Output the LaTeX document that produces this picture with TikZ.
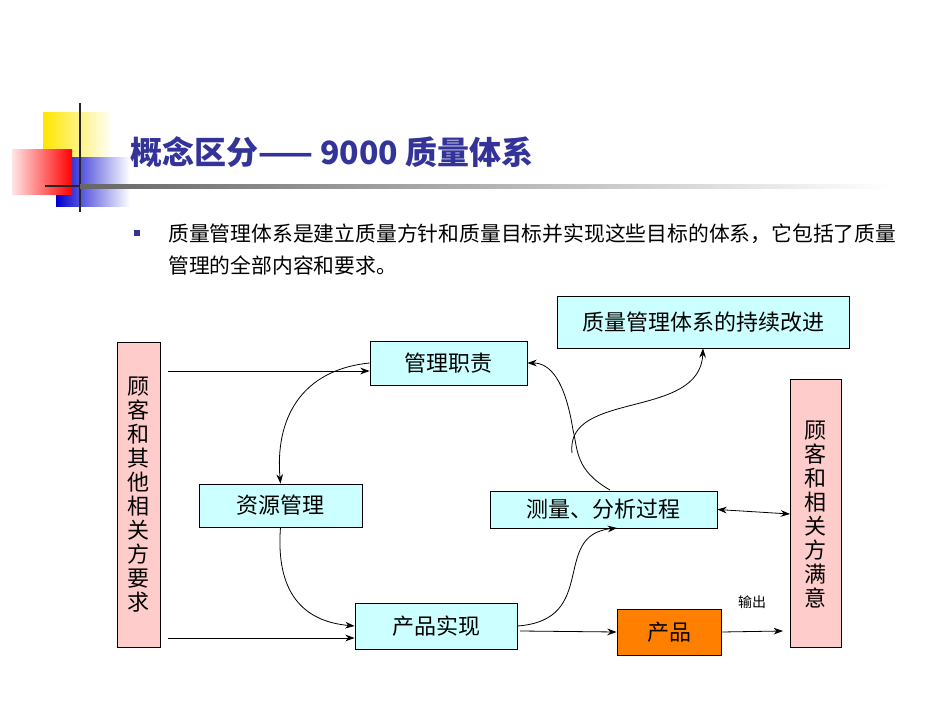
\documentclass[tikz,border=0pt]{standalone}
\usepackage{fontspec}
\newfontfamily\cjk{Noto Sans CJK SC}
\usetikzlibrary{arrows.meta,shadings}
\definecolor{boxc}{HTML}{CCFFFF}
\definecolor{pinkc}{HTML}{FFCCCC}
\definecolor{titc}{HTML}{333399}
\begin{document}
\begin{tikzpicture}[x=0.75pt,y=-0.75pt,
  bx/.style={draw,line width=0.6pt,fill=boxc,inner sep=0pt,font=\cjk\fontsize{16.5}{16.5}\selectfont},
  vtx/.style={font=\cjk\fontsize{16.5}{18}\selectfont,align=center},
  ar/.style={-{Stealth[length=7pt,width=5pt]},line width=0.6pt},
  ]
\useasboundingbox (0,0) rectangle (950,713);
% logo
\shade[left color=yellow!80!orange,right color=white] (43,113) rectangle (113,160);
\shade[left color=blue!80!black,right color=white] (56,158) rectangle (130,207);
\shade[left color=red!10,right color=red] (12,150) rectangle (72,195);
\draw[line width=2pt,black!85] (80,103) -- (80,212);
\draw[line width=2pt,black!85] (45,186) -- (150,186);
\node[anchor=west,text=titc,font=\cjk\bfseries\fontsize{24}{24}\selectfont,inner sep=0pt] (title) at (130,152) {概念区分—— 9000 质量体系};
\shade[left color=black!60,right color=white] (80,185) rectangle (890,189);
% bullet
\node[fill=titc,minimum size=5pt,inner sep=0pt] (bul) at (137,233) {};
\node[anchor=west,font=\cjk\fontsize{15.6}{24.5}\selectfont,align=left,inner sep=0pt] (txt) at (168,249.5) {质量管理体系是建立质量方针和质量目标并实现这些目标的体系，它包括了质量\\管理的全部内容和要求。};
% boxes
\draw[line width=0.6pt,fill=pinkc] (117,342) rectangle (160,647);
\node[vtx] (lt) at (138.5,494.5) {顾\\客\\和\\其\\他\\相\\关\\方\\要\\求};
\draw[line width=0.6pt,fill=pinkc] (790,379) rectangle (841,647);
\node[vtx] (rt) at (815.5,514) {顾\\客\\和\\相\\关\\方\\满\\意};
\coordinate (L1) at (168,371); \coordinate (L2) at (168,638);
\node[bx,minimum width=117.75pt,minimum height=33pt] (mgmt) at (448.5,363) {管理职责};
\node[bx,minimum width=219pt,minimum height=39pt] (ci) at (703,322) {质量管理体系的持续改进};
\node[bx,minimum width=122.25pt,minimum height=32.25pt] (res) at (280.5,505.5) {资源管理};
\node[bx,minimum width=170.25pt,minimum height=27.75pt] (meas) at (603.5,509.5) {测量、分析过程};
\node[bx,minimum width=121.5pt,minimum height=34.5pt] (prod) at (436,626) {产品实现};
\node[bx,fill=orange,minimum width=78pt,minimum height=34.5pt] (pp) at (669,632) {产品};
\node[font=\cjk\fontsize{10.5}{10.5}\selectfont] (out) at (752,602) {输出};
\coordinate (R1) at (783,631);
\coordinate (RL) at (790,514);
\coordinate (mb) at (617,528);
% arrows
\draw[ar] (L1) -- (mgmt.west |- L1);
\draw[ar] (L2) -- (prod.west |- L2);
\draw[ar] (mgmt.west) .. controls (300,370) and (275,420) .. (res.north);
\draw[ar] (res.south) .. controls (275,600) and (310,622) .. (prod.west);
\draw[ar] (prod.east) .. controls (600,620) and (550,535) .. (mb);
\draw[ar] (520,631) -- (pp.west);
\draw[ar] (pp.east) -- (R1);
\draw[{Stealth[length=7pt,width=5pt]}-{Stealth[length=7pt,width=5pt]},line width=0.6pt] (meas.east) -- (RL);
\coordinate (m1) at (610,490);
\coordinate (c1) at (572,453);
\draw[ar] (m1) .. controls (575,470) and (578,450) .. (573,430) .. controls (565,380) and (550,363) .. (mgmt.east);
\draw[ar] (c1) .. controls (565,390) and (700,420) .. (ci.south);
\end{tikzpicture}
\end{document}
